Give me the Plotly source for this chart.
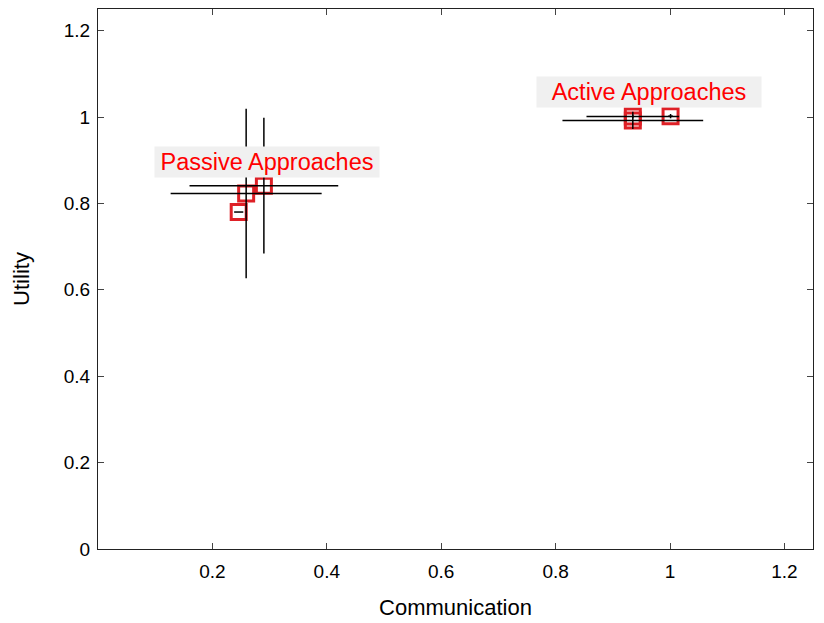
import plotly.graph_objects as go

# ---- data ----
passive_comm = [0.259, 0.290, 0.246]
passive_util = [0.823, 0.841, 0.780]
passive_comm_err = [0.132, 0.130, 0.008]
passive_util_err = [0.196, 0.157, 0.0]

active_comm = [0.935, 0.935, 1.001]
active_util = [0.992, 1.001, 1.002]
active_comm_err = [0.123, 0.081, 0.004]
active_util_err = [0.020, 0.004, 0.005]

group_labels = ["Passive Approaches", "Active Approaches"]
label_pos_x = [0.295, 0.963]
label_pos_y = [0.897, 1.059]

x_ticks = [0.2, 0.4, 0.6, 0.8, 1.0, 1.2]
x_tick_text = ["0.2", "0.4", "0.6", "0.8", "1", "1.2"]
y_ticks = [0, 0.2, 0.4, 0.6, 0.8, 1.0, 1.2]
y_tick_text = ["0", "0.2", "0.4", "0.6", "0.8", "1", "1.2"]

FONT = "Arial, Liberation Sans, sans-serif"
SQ_RED = "rgb(222,32,38)"

fig = go.Figure()

all_x = passive_comm + active_comm
all_y = passive_util + active_util
all_xe = passive_comm_err + active_comm_err
all_ye = passive_util_err + active_util_err

# markers
fig.add_trace(go.Scatter(
    x=all_x, y=all_y, mode="markers",
    marker=dict(symbol="square-open", size=15, color=SQ_RED, line=dict(width=3, color=SQ_RED)),
    showlegend=False, hoverinfo="skip"))

# error bars drawn on top of the markers
fig.add_trace(go.Scatter(
    x=all_x, y=all_y, mode="markers",
    marker=dict(size=1, color="rgba(0,0,0,0)"),
    error_x=dict(type="data", array=all_xe, visible=True, color="black", thickness=1.5, width=0),
    error_y=dict(type="data", array=all_ye, visible=True, color="black", thickness=1.5, width=0),
    showlegend=False, hoverinfo="skip"))

for txt, lx, ly in zip(group_labels, label_pos_x, label_pos_y):
    fig.add_annotation(x=lx, y=ly, xref="x", yref="y", text=txt, showarrow=False,
                       font=dict(family=FONT, size=23.5, color="rgb(255,0,0)"),
                       bgcolor="rgb(240,240,240)", width=222, height=28, borderpad=1)

axis_common = dict(showgrid=False, zeroline=False, showline=True, linecolor="#222", linewidth=1,
                   mirror="ticks", ticks="inside", ticklen=6, tickcolor="#444", tickwidth=1,
                   tickfont=dict(family=FONT, size=19, color="black"))

fig.update_xaxes(range=[0, 1.25], tickvals=x_ticks, ticktext=x_tick_text, ticklabelstandoff=5,
                 title=dict(text="Communication", font=dict(family=FONT, size=22, color="black"), standoff=18),
                 **axis_common)
fig.update_yaxes(range=[0, 1.25], tickvals=y_ticks, ticktext=y_tick_text, ticklabelstandoff=3,
                 title=dict(text="Utility", font=dict(family=FONT, size=22, color="black"), standoff=28),
                 **axis_common)

# page body adds an 8px offset, so the figure is sized/margined to compensate
fig.update_layout(width=816, height=615, margin=dict(l=90, r=11, t=1, b=74, autoexpand=False),
                  plot_bgcolor="white", paper_bgcolor="white", font=dict(family=FONT))

fig.write_html("out.html")
